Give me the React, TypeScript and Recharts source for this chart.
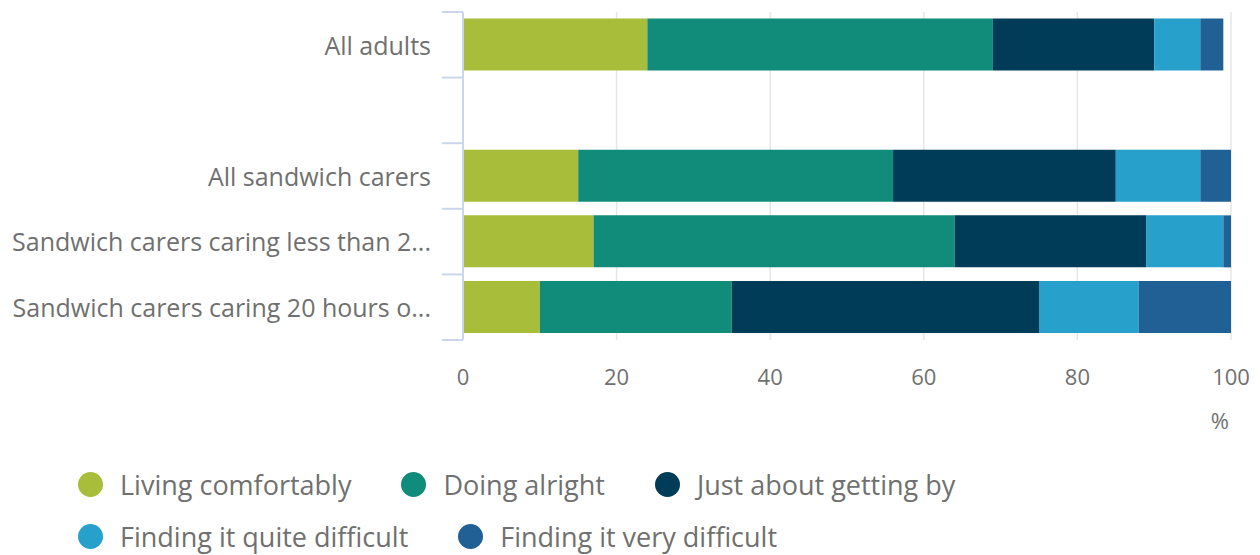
import React from "react";
import { BarChart, Bar, XAxis, YAxis, CartesianGrid } from "recharts";

const categories = [
    "All adults",
    " ",
    "All sandwich carers",
    "Sandwich carers caring less than 2...",
    "Sandwich carers caring 20 hours o...",
];

const livingComfortably = [24, null, 15, 17, 10];
const doingAlright = [45, null, 41, 47, 25];
const justAboutGettingBy = [21, null, 29, 25, 40];
const quiteDifficult = [6, null, 11, 10, 13];
const veryDifficult = [3, null, 4, 1, 12];

const xTicks = [0, 20, 40, 60, 80, 100];

const series = [
    { key: "living", name: "Living comfortably", color: "#a8bd3a" },
    { key: "alright", name: "Doing alright", color: "#118c7b" },
    { key: "getting", name: "Just about getting by", color: "#003c57" },
    { key: "quite", name: "Finding it quite difficult", color: "#27a0cc" },
    { key: "very", name: "Finding it very difficult", color: "#206095" },
];

const data = categories.map((name, i) => ({
    name,
    living: livingComfortably[i],
    alright: doingAlright[i],
    getting: justAboutGettingBy[i],
    quite: quiteDifficult[i],
    very: veryDifficult[i],
}));

const FONT = "'Open Sans', 'Noto Sans', sans-serif";
const TEXT = "#707070";
const AXIS = "#ccd6eb";

const CHART_W = 1260;
const CHART_H = 440;
const MARGIN = { top: 12, right: 29, left: 0, bottom: 0 };
const X_AXIS_H = 100;
const BAND = (CHART_H - MARGIN.top - X_AXIS_H) / categories.length;

// category label + tick mark on the band edge (highcharts style)
function YTick(props: any) {
    const { x, y, payload, index } = props;
    const last = index === categories.length - 1;
    return (
        <g>
            <line x1={x - 21} x2={x} y1={y - BAND / 2} y2={y - BAND / 2} stroke={AXIS} strokeWidth={2} />
            {last && (
                <line x1={x - 21} x2={x} y1={y + BAND / 2} y2={y + BAND / 2} stroke={AXIS} strokeWidth={2} />
            )}
            <text
                x={x - 32}
                y={y + 1}
                dy="0.35em"
                textAnchor="end"
                fill={TEXT}
                fontSize={25}
                fontFamily={FONT}
            >
                {payload.value}
            </text>
        </g>
    );
}

// "%" unit under the right end of the x axis
function UnitLabel(props: any) {
    const vb = props.viewBox || {};
    return (
        <text
            x={vb.x + vb.width - 2}
            y={vb.y + 89}
            textAnchor="end"
            fill={TEXT}
            fontSize={22}
            fontFamily={FONT}
        >
            %
        </text>
    );
}

export default function App() {
    return (
        <div
            style={{
                position: "absolute",
                left: 0,
                top: 0,
                width: CHART_W,
                height: 555,
                background: "#fff",
                fontFamily: FONT,
            }}
        >
            <BarChart
                width={CHART_W}
                height={CHART_H}
                data={data}
                layout="vertical"
                margin={MARGIN}
                barCategoryGap="10%"
            >
                <CartesianGrid horizontal={false} stroke="#e6e6e6" strokeWidth={1.5} />
                <XAxis
                    type="number"
                    domain={[0, 100]}
                    ticks={xTicks}
                    axisLine={false}
                    tickLine={false}
                    tickSize={0}
                    tickMargin={29}
                    height={X_AXIS_H}
                    tick={{ fill: TEXT, fontSize: 22, fontFamily: FONT }}
                    label={<UnitLabel />}
                />
                <YAxis
                    type="category"
                    dataKey="name"
                    width={463}
                    axisLine={{ stroke: AXIS, strokeWidth: 2 }}
                    tickLine={false}
                    tickSize={0}
                    tickMargin={0}
                    interval={0}
                    tick={<YTick />}
                />
                {series.map((s) => (
                    <Bar
                        key={s.key}
                        dataKey={s.key}
                        name={s.name}
                        stackId="a"
                        fill={s.color}
                        isAnimationActive={false}
                    />
                ))}
            </BarChart>

            {/* Legend */}
            <div
                style={{
                    position: "absolute",
                    left: 78,
                    top: 466,
                    width: 1100,
                    display: "flex",
                    flexWrap: "wrap",
                    columnGap: 50,
                    rowGap: 16,
                }}
            >
                {series.map((s) => (
                    <div key={s.key} style={{ display: "flex", alignItems: "center", height: 36 }}>
                        <span
                            style={{
                                width: 25,
                                height: 25,
                                borderRadius: "50%",
                                background: s.color,
                                marginRight: 17,
                                flexShrink: 0,
                            }}
                        />
                        <span style={{ fontSize: 27, color: TEXT, whiteSpace: "nowrap" }}>{s.name}</span>
                    </div>
                ))}
            </div>
        </div>
    );
}
